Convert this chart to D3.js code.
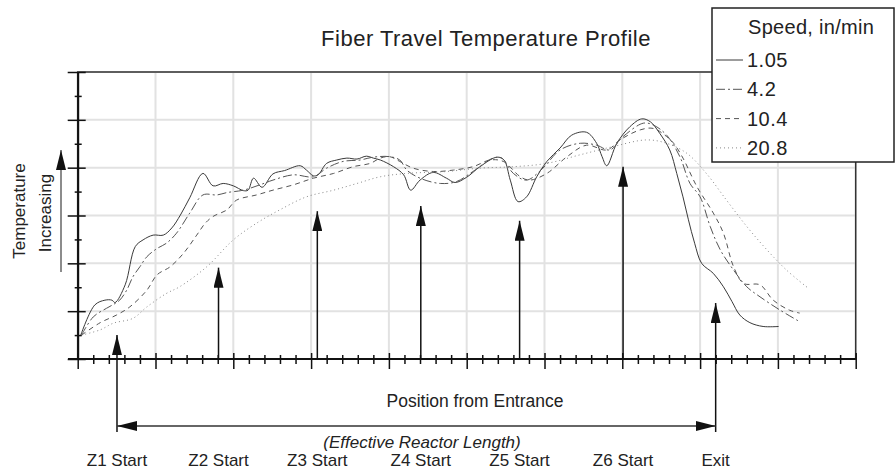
<!DOCTYPE html>
<html>
<head>
<meta charset="utf-8">
<script src="https://cdnjs.cloudflare.com/ajax/libs/d3/7.8.5/d3.min.js"></script>
<style>
  body { margin: 0; background: #fff; }
  text { font-family: "Liberation Sans", Arial, sans-serif; fill: #222; }
</style>
</head>
<body>
<div id="chart"></div>
<script>
// position (% of travel) and relative temperature
const speeds = ["1.05", "4.2", "10.4", "20.8"];

const pos105 = [0.4, 2.2, 3.5, 4.4, 4.8, 6.1, 7.4, 8.4, 9.7, 11.0, 12.1, 13.2, 14.4, 16.1, 17.4, 18.7, 20.0, 21.3, 21.9, 22.6, 23.7, 25.1, 26.6, 28.6, 29.4, 30.3, 30.9, 32.0, 33.3, 34.6, 35.9, 37.1, 38.0, 38.9, 40.6, 41.9, 42.8, 44.0, 45.7, 47.4, 48.5, 50.0, 51.7, 53.9, 54.8, 55.6, 56.6, 57.7, 59.0, 60.3, 62.0, 63.5, 65.4, 66.7, 67.4, 68.0, 69.3, 71.0, 72.5, 73.6, 74.8, 76.1, 77.0, 77.8, 78.5, 79.3, 80.2, 81.7, 83.0, 84.1, 85.1, 86.4, 88.1, 90.1];
const temp105 = [5.0, 11.3, 12.3, 12.3, 11.8, 15.5, 23.5, 24.9, 25.9, 25.9, 27.4, 30.1, 33.7, 38.8, 36.2, 36.7, 36.2, 35.2, 35.3, 37.8, 35.9, 38.7, 39.4, 40.4, 39.5, 38.3, 38.5, 40.9, 41.6, 42.0, 41.8, 42.4, 42.0, 41.6, 40.2, 38.5, 35.3, 37.4, 39.0, 37.8, 36.9, 38.0, 40.2, 42.2, 41.6, 37.4, 32.9, 33.9, 38.1, 41.3, 44.1, 46.8, 47.4, 45.1, 42.3, 40.4, 45.1, 48.6, 50.2, 49.6, 47.2, 43.7, 38.8, 33.9, 29.1, 24.2, 20.0, 17.9, 15.1, 12.0, 9.2, 7.6, 6.8, 6.8];

const pos42 = [0.5, 2.0, 3.7, 4.8, 5.4, 6.3, 7.1, 8.0, 8.9, 10.2, 11.4, 12.7, 14.4, 16.1, 17.9, 19.2, 21.3, 23.4, 25.1, 27.7, 30.3, 32.0, 34.1, 36.3, 38.0, 40.1, 41.4, 42.3, 44.0, 46.6, 48.7, 50.8, 53.4, 54.5, 56.0, 57.7, 59.8, 62.0, 64.6, 66.7, 68.4, 70.1, 72.7, 74.0, 75.7, 77.4, 78.7, 80.0, 81.3, 82.6, 84.3, 86.0, 87.7, 90.3, 92.8];
const temp42 = [5.0, 8.8, 10.6, 11.6, 12.3, 14.4, 17.2, 19.3, 21.4, 23.1, 24.2, 26.3, 30.5, 34.3, 34.3, 34.8, 35.3, 36.4, 37.4, 38.5, 38.1, 39.9, 41.3, 41.6, 42.2, 42.3, 41.6, 39.5, 37.8, 36.7, 37.1, 39.2, 42.0, 42.0, 38.8, 37.4, 39.9, 43.7, 45.1, 44.7, 43.7, 46.5, 49.3, 48.9, 46.8, 42.3, 36.7, 33.9, 27.7, 22.8, 18.6, 15.1, 13.0, 10.2, 7.8];

const pos104 = [0.5, 2.9, 5.0, 6.7, 8.9, 10.2, 11.9, 13.6, 15.3, 16.4, 17.4, 19.2, 20.4, 23.0, 25.1, 27.7, 30.3, 32.9, 35.4, 37.6, 38.9, 40.1, 41.4, 43.1, 45.7, 48.3, 50.8, 53.0, 54.7, 56.9, 58.1, 60.3, 62.9, 65.4, 68.0, 69.7, 72.3, 74.0, 75.7, 76.6, 77.8, 79.6, 81.7, 83.0, 84.3, 85.6, 87.7, 89.4, 91.5, 92.8];
const temp104 = [5.0, 7.6, 9.2, 10.9, 14.4, 17.6, 19.3, 22.1, 25.9, 28.4, 29.8, 31.2, 33.2, 34.3, 35.3, 36.4, 37.8, 38.8, 40.2, 40.9, 42.0, 42.3, 41.3, 39.9, 39.2, 39.5, 40.2, 41.6, 41.3, 38.1, 37.4, 38.8, 42.3, 44.7, 43.7, 45.8, 47.9, 48.2, 46.5, 45.1, 42.0, 36.0, 30.5, 26.3, 19.3, 15.8, 15.5, 12.3, 10.2, 9.6];

const pos208 = [0.5, 2.9, 4.6, 7.1, 8.9, 11.4, 13.1, 16.6, 20.0, 23.0, 26.0, 29.4, 32.9, 35.9, 38.9, 42.3, 47.4, 51.7, 56.0, 60.3, 64.6, 68.8, 73.1, 75.7, 78.3, 80.8, 83.4, 86.0, 88.6, 91.1, 93.9];
const temp208 = [5.0, 6.1, 7.5, 8.5, 10.9, 13.7, 15.1, 19.3, 24.9, 28.4, 31.2, 33.9, 35.3, 36.7, 38.1, 38.8, 39.2, 39.9, 40.2, 40.9, 42.7, 44.4, 45.8, 45.1, 43.0, 38.8, 33.2, 27.7, 22.8, 18.6, 14.8];

// zone start markers
const zoneNames = ["Z1 Start", "Z2 Start", "Z3 Start", "Z4 Start", "Z5 Start", "Z6 Start", "Exit"];
const zonePos = [5.05, 18.1, 30.8, 44.1, 56.8, 70.1, 82.0];
const zoneTip = [5.0, 19.1, 30.9, 32.0, 28.9, 40.2, 11.7];

const xTicks = d3.range(0, 101, 10);
const xMinor = d3.range(0, 101, 2);
const yTicks = d3.range(0, 61, 10);
const yMinor = d3.range(0, 61, 5);

const W = 896, H = 470;
const svg = d3.select("#chart").append("svg")
    .attr("width", W)
    .attr("height", H);

const x = d3.scaleLinear().domain([0, 100]).range([77.7, 855.7]);
const y = d3.scaleLinear().domain([0, 60]).range([359, 72]);

svg.append("defs").append("marker")
    .attr("id", "head")
    .attr("viewBox", "0 0 20 10")
    .attr("refX", 20).attr("refY", 5)
    .attr("markerWidth", 20).attr("markerHeight", 10)
    .attr("markerUnits", "userSpaceOnUse")
    .attr("orient", "auto-start-reverse")
    .append("path")
        .attr("d", "M0,0L20,5L0,10Z")
        .attr("fill", "#111");

// grid
svg.append("g").selectAll("line")
    .data(xTicks)
    .join("line")
        .attr("x1", d => x(d)).attr("x2", d => x(d))
        .attr("y1", y(60)).attr("y2", y(0))
        .attr("stroke", "#e2e2e2").attr("stroke-width", 2);
svg.append("g").selectAll("line")
    .data(yTicks)
    .join("line")
        .attr("x1", x(0)).attr("x2", x(100))
        .attr("y1", d => y(d)).attr("y2", d => y(d))
        .attr("stroke", "#e2e2e2").attr("stroke-width", 2);

// series
const series = [
    {name: speeds[0], pos: pos105, temp: temp105, dash: null, color: "#3a3a3a"},
    {name: speeds[1], pos: pos42, temp: temp42, dash: "9,3,2,3", color: "#555"},
    {name: speeds[2], pos: pos104, temp: temp104, dash: "5,4", color: "#555"},
    {name: speeds[3], pos: pos208, temp: temp208, dash: "1,3", color: "#888"}
];
const line = d3.line()
    .x(d => x(d[0]))
    .y(d => y(d[1]))
    .curve(d3.curveCatmullRom.alpha(0.5));

svg.append("g").selectAll("path")
    .data(series)
    .join("path")
        .attr("d", s => line(d3.zip(s.pos, s.temp)))
        .attr("fill", "none")
        .attr("stroke", s => s.color)
        .attr("stroke-width", 1)
        .attr("stroke-dasharray", s => s.dash);

// frame
svg.append("rect")
    .attr("x", x(0)).attr("y", y(60))
    .attr("width", x(100) - x(0)).attr("height", y(0) - y(60))
    .attr("fill", "none").attr("stroke", "#333").attr("stroke-width", 1.5);

// x axis with crossing ticks
const xAxis = svg.append("g")
    .attr("transform", `translate(0,${y(0)})`)
    .call(d3.axisBottom(x).tickValues(xMinor).tickFormat("").tickSizeOuter(0));
xAxis.select(".domain").attr("d", `M68,0H${x(100)}`).attr("stroke", "#111").attr("stroke-width", 2);
xAxis.selectAll(".tick line")
    .attr("stroke", "#111").attr("stroke-width", 1.5)
    .attr("y1", d => d % 10 === 0 ? -6 : -4)
    .attr("y2", d => d % 10 === 0 ? 10 : 5);

// y axis with crossing ticks
const yAxis = svg.append("g")
    .attr("transform", `translate(${x(0)},0)`)
    .call(d3.axisLeft(y).tickValues(yMinor).tickFormat("").tickSizeOuter(0));
yAxis.select(".domain").attr("stroke", "#111").attr("stroke-width", 2);
yAxis.selectAll(".tick line")
    .attr("stroke", "#111").attr("stroke-width", 1.5)
    .attr("x1", d => d % 10 === 0 ? 8 : 4)
    .attr("x2", d => d % 10 === 0 ? -10 : -3);

// zone arrows
svg.append("g").selectAll("line")
    .data(zonePos)
    .join("line")
        .attr("x1", d => x(d)).attr("x2", d => x(d))
        .attr("y1", (d, i) => (i === 0 || i === zonePos.length - 1) ? 432 : y(0))
        .attr("y2", (d, i) => y(zoneTip[i]))
        .attr("stroke", "#111").attr("stroke-width", 1.5)
        .attr("marker-end", "url(#head)");

svg.append("g").selectAll("text")
    .data(zoneNames)
    .join("text")
        .attr("x", (d, i) => x(zonePos[i]))
        .attr("y", 466)
        .attr("text-anchor", "middle")
        .style("font-size", "17px")
        .text(d => d);

// effective reactor length
svg.append("line")
    .attr("x1", x(zonePos[0])).attr("x2", x(zonePos[zonePos.length - 1]))
    .attr("y1", 426).attr("y2", 426)
    .attr("stroke", "#333").attr("stroke-width", 1.5)
    .attr("marker-start", "url(#head)")
    .attr("marker-end", "url(#head)");

svg.append("text")
    .attr("x", 475).attr("y", 407)
    .attr("text-anchor", "middle")
    .style("font-size", "17.5px")
    .text("Position from Entrance");

svg.append("text")
    .attr("x", 422).attr("y", 448)
    .attr("text-anchor", "middle")
    .style("font-size", "17px")
    .style("font-style", "italic")
    .text("(Effective Reactor Length)");

// y label
svg.append("text")
    .attr("transform", "translate(25,211) rotate(-90)")
    .attr("text-anchor", "middle")
    .style("font-size", "17px")
    .text("Temperature");
svg.append("text")
    .attr("transform", "translate(51,213) rotate(-90)")
    .attr("text-anchor", "middle")
    .style("font-size", "17px")
    .text("Increasing");
svg.append("line")
    .attr("x1", 61).attr("x2", 61)
    .attr("y1", 272).attr("y2", 150)
    .attr("stroke", "#666").attr("stroke-width", 1.5)
    .attr("marker-end", "url(#head)");

// title
svg.append("text")
    .attr("x", 486).attr("y", 46)
    .attr("text-anchor", "middle")
    .style("font-size", "22px")
    .style("letter-spacing", "0.5px")
    .text("Fiber Travel Temperature Profile");

// legend
const legend = svg.append("g").attr("transform", "translate(712,8)");
legend.append("rect")
    .attr("width", 182).attr("height", 154)
    .attr("fill", "#fff").attr("stroke", "#222").attr("stroke-width", 1.5);
legend.append("text")
    .attr("x", 36).attr("y", 26)
    .style("font-size", "20px")
    .style("letter-spacing", "0.3px")
    .text("Speed, in/min");
const item = legend.selectAll(".item")
    .data(series)
    .join("g")
        .attr("class", "item")
        .attr("transform", (d, i) => `translate(0,${52 + i * 29.3})`);
item.append("line")
    .attr("x1", 4).attr("x2", 31)
    .attr("stroke", d => d.color)
    .attr("stroke-width", 1)
    .attr("stroke-dasharray", d => d.dash);
item.append("text")
    .attr("x", 35).attr("y", 7)
    .style("font-size", "20px")
    .style("letter-spacing", "0.5px")
    .text(d => d.name);
</script>
</body>
</html>
